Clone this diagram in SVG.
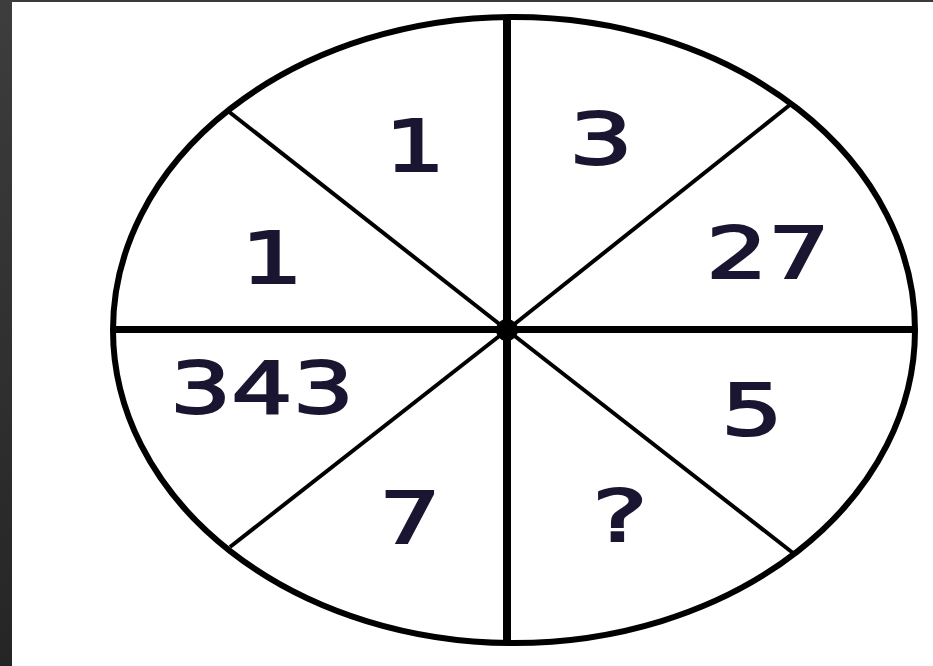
<svg xmlns="http://www.w3.org/2000/svg" width="933" height="666" viewBox="0 0 933 666">
<defs>
<linearGradient id="side" x1="0" y1="0" x2="0" y2="1">
<stop offset="0" stop-color="#3d3d3d"/>
<stop offset="1" stop-color="#252525"/>
</linearGradient>
<style>
.num{font-family:"DejaVu Sans","Verdana",sans-serif;font-size:71px;fill:#1a1530;stroke:#1a1530;stroke-width:2;text-anchor:middle}
.thick{stroke:#000;stroke-width:7;fill:none}
.thin{stroke:#000;stroke-width:4;fill:none}
</style>
</defs>
<rect width="933" height="666" fill="#fff"/>
<rect x="0" y="0" width="12" height="666" fill="url(#side)"/>
<rect x="12" y="0" width="921" height="2" fill="#3a3a3a"/>
<g id="wheel">
<ellipse cx="514" cy="330" rx="401" ry="313" stroke="#000" stroke-width="6" fill="none"/>
</g>
<g id="connectors">
<line class="thick" x1="507" y1="18" x2="507" y2="642" style="stroke-width:8"/>
<line class="thick" x1="115" y1="329.5" x2="913" y2="329.5"/>
<line class="thin" x1="228" y1="111" x2="507" y2="330"/>
<line class="thin" x1="791" y1="104" x2="507" y2="330"/>
<line class="thin" x1="230" y1="547" x2="507" y2="330"/>
<line class="thin" x1="793" y1="553" x2="507" y2="330"/>
<circle cx="507" cy="330" r="11" fill="#000"/>
</g>
<g id="s1"><text class="num" x="415" y="171" textLength="60" lengthAdjust="spacingAndGlyphs">1</text></g>
<g id="s2"><text class="num" x="601" y="164" textLength="64" lengthAdjust="spacingAndGlyphs">3</text></g>
<g id="s3"><text class="num" x="272" y="283" textLength="62" lengthAdjust="spacingAndGlyphs">1</text></g>
<g id="s4"><text class="num" x="768" y="278" textLength="124" lengthAdjust="spacingAndGlyphs">27</text></g>
<g id="s5"><text class="num" x="262" y="413" textLength="184" lengthAdjust="spacingAndGlyphs">343</text></g>
<g id="s6"><text class="num" x="752" y="435" textLength="62" lengthAdjust="spacingAndGlyphs">5</text></g>
<g id="s7"><text class="num" x="410" y="543" textLength="62" lengthAdjust="spacingAndGlyphs">7</text></g>
<g id="s8"><text class="num" x="620" y="541" textLength="56" lengthAdjust="spacingAndGlyphs">?</text></g>
</svg>
